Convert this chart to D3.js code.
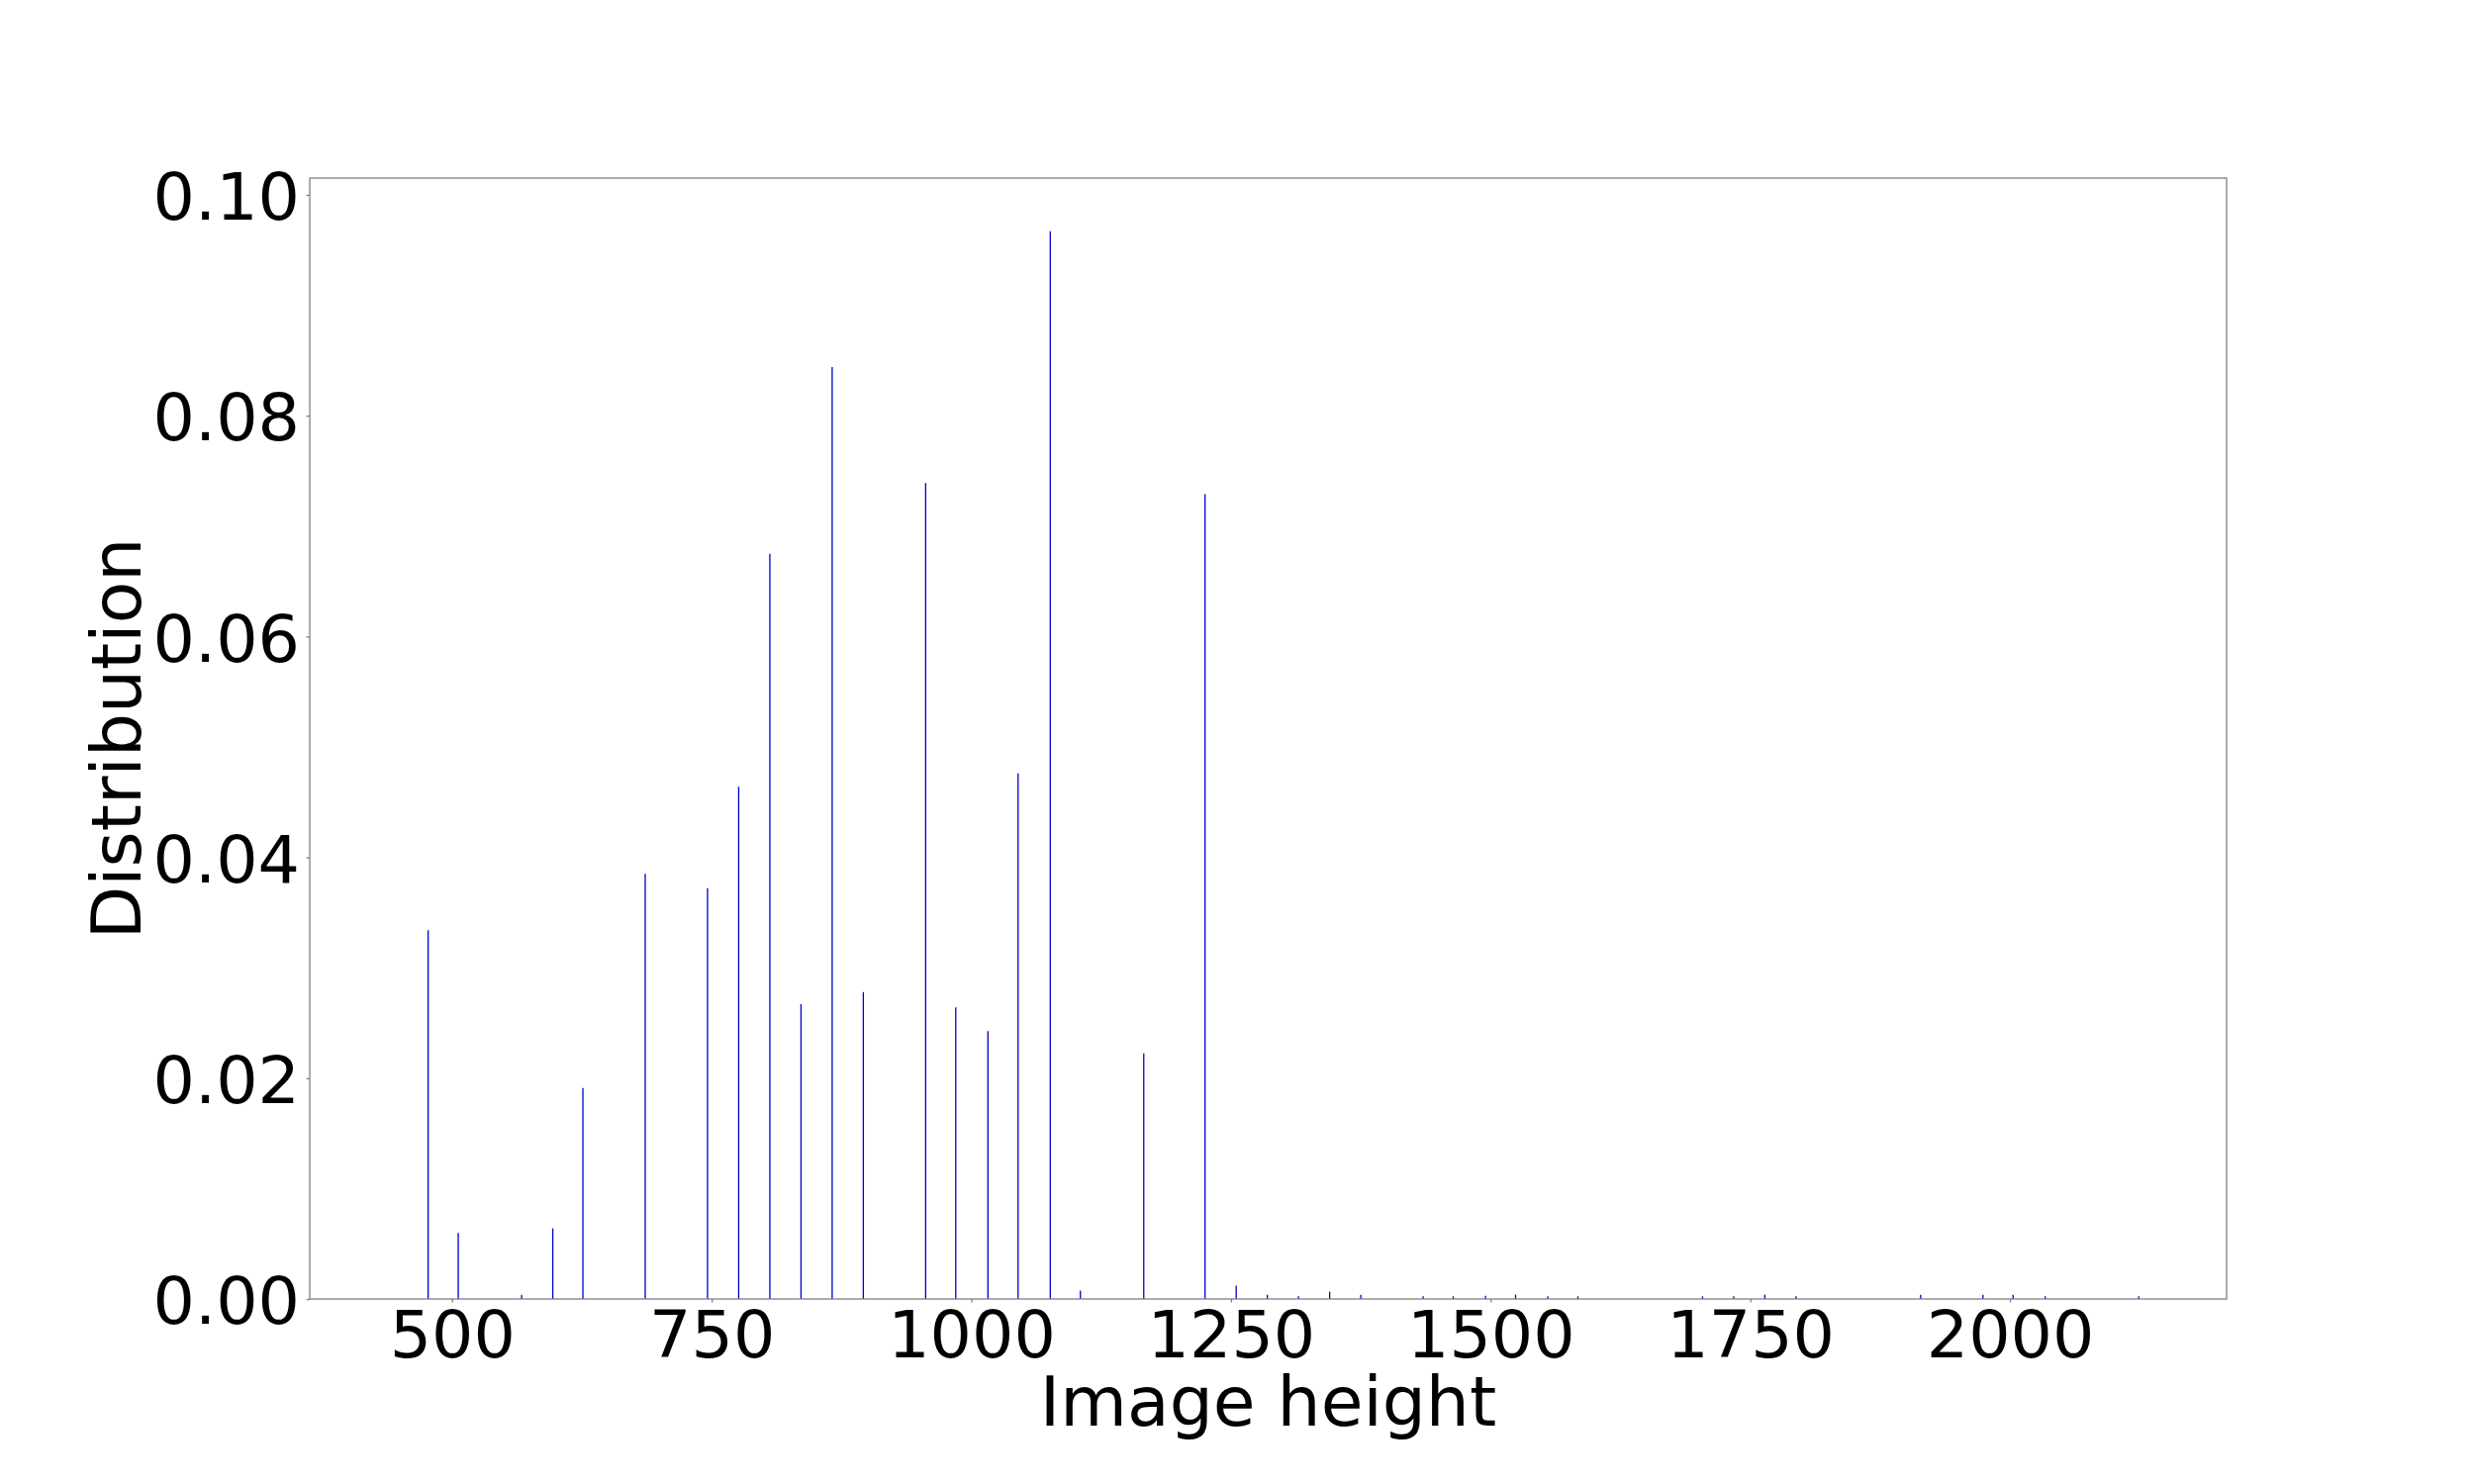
<!DOCTYPE html>
<html>
<head>
    <meta charset="utf-8">
    <script src="https://d3js.org/d3.v7.min.js"></script>
    <style>
        body {
            margin: 0;
            background: #fff;
        }

        .axis text {
            font-family: "DejaVu Sans", sans-serif;
            font-size: 66.7px;
            fill: #000;
        }

        .axis path, .axis line {
            stroke: #808080;
            stroke-width: 1.3px;
        }

        .axisLabel {
            font-family: "DejaVu Sans", sans-serif;
            font-size: 69.5px;
            fill: #000;
        }
    </style>
</head>
<body>
<svg id="chart" width="2500" height="1500"></svg>

<script>
    // image heights (bin positions) and their share
    const heights = [477, 506, 567, 597, 626, 686, 746, 776, 806, 836, 866, 896, 956, 985, 1016, 1045,
        1076, 1105, 1166, 1225, 1255, 1285, 1315, 1345, 1375, 1435, 1464, 1495, 1524, 1555, 1584,
        1704, 1734, 1764, 1794, 1914, 1974, 2003, 2034, 2124];
    const distribution = [0.0334, 0.00597, 0.00039, 0.0064, 0.0191, 0.0385, 0.0372, 0.0464, 0.0675,
        0.0267, 0.0844, 0.0278, 0.0739, 0.0264, 0.02425, 0.0476, 0.0967, 0.00077, 0.02225, 0.0729,
        0.0012, 0.00039, 0.00024, 0.00066, 0.00039, 0.00024, 0.00024, 0.0003, 0.00039, 0.00024,
        0.00024, 0.00024, 0.00024, 0.00039, 0.00024, 0.00039, 0.00039, 0.00039, 0.00024, 0.00024];

    const xTicks = [500, 750, 1000, 1250, 1500, 1750, 2000];
    const yTicks = [0, 0.02, 0.04, 0.06, 0.08, 0.10];

    const svg = d3.select("#chart");
    const plot = {left: 313, right: 2250, top: 180, bottom: 1313};

    const x = d3.scaleLinear()
        .domain([363, 2208.6])
        .range([plot.left, plot.right]);

    const y = d3.scaleLinear()
        .domain([0, 0.10152])
        .range([plot.bottom, plot.top]);

    const data = heights.map((h, i) => ({h: h, d: distribution[i]}));

    // stems
    svg.append("g")
        .selectAll("line")
        .data(data)
        .join("line")
        .attr("x1", d => x(d.h))
        .attr("x2", d => x(d.h))
        .attr("y1", y(0))
        .attr("y2", d => y(d.d))
        .attr("stroke", "#0000cd")
        .attr("stroke-width", 1.3);

    // frame
    svg.append("rect")
        .attr("x", plot.left)
        .attr("y", plot.top)
        .attr("width", plot.right - plot.left)
        .attr("height", plot.bottom - plot.top)
        .attr("fill", "none")
        .attr("stroke", "#808080")
        .attr("stroke-width", 1.3);

    const xAxis = svg.append("g")
        .attr("class", "axis")
        .attr("transform", "translate(0," + plot.bottom + ")")
        .call(d3.axisBottom(x).tickValues(xTicks).tickFormat(d3.format("d")).tickSize(3.5).tickPadding(8).tickSizeOuter(0));
    xAxis.select(".domain").remove();
    xAxis.selectAll("text").attr("y", 58.5).attr("dy", 0);

    const yAxis = svg.append("g")
        .attr("class", "axis")
        .attr("transform", "translate(" + plot.left + ",0)")
        .call(d3.axisLeft(y).tickValues(yTicks).tickFormat(d3.format(".2f")).tickSize(3.5).tickPadding(6.5).tickSizeOuter(0));
    yAxis.select(".domain").remove();
    yAxis.selectAll("text").attr("dy", "0.37em");

    svg.append("text")
        .attr("class", "axisLabel")
        .attr("x", (plot.left + plot.right) / 2)
        .attr("y", 1440.7)
        .attr("text-anchor", "middle")
        .text("Image height");

    svg.append("text")
        .attr("class", "axisLabel")
        .attr("transform", "translate(141.7," + (plot.top + plot.bottom) / 2 + ") rotate(-90)")
        .attr("text-anchor", "middle")
        .text("Distribution");
</script>
</body>
</html>
